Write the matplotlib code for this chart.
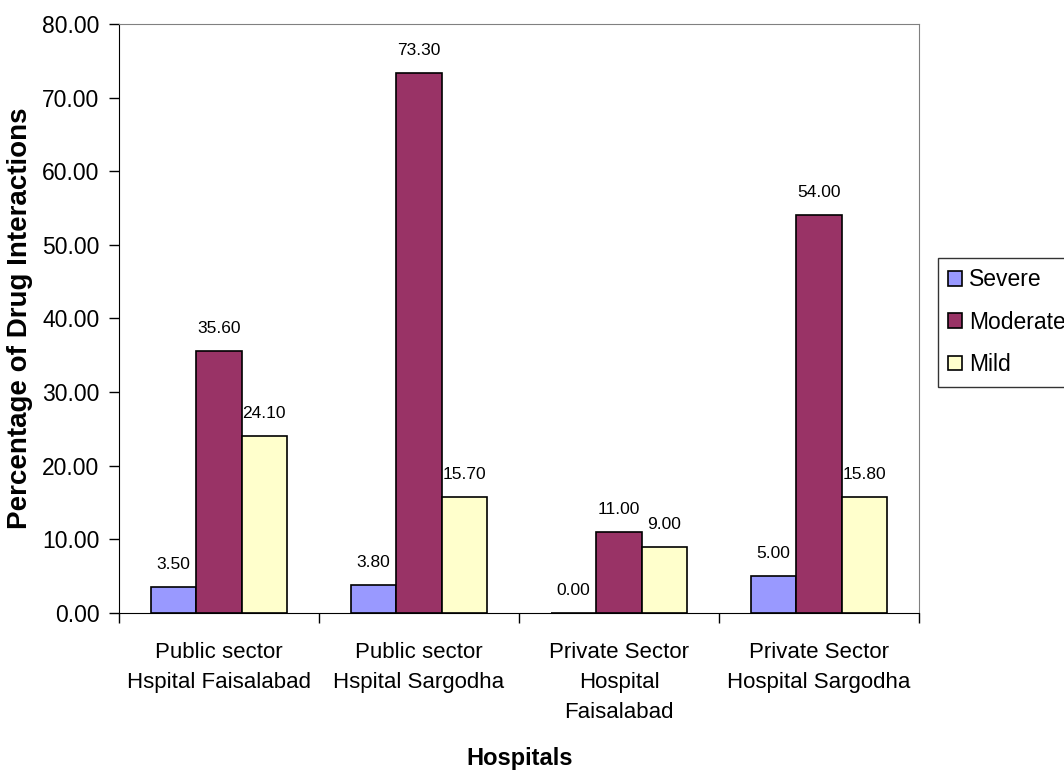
import numpy as np
import matplotlib as mpl
mpl.use('Agg')
import matplotlib.pyplot as plt

mpl.rcParams['font.family'] = ['Liberation Sans', 'DejaVu Sans']

categories = ['Public sector\nHspital Faisalabad', 'Public sector\nHspital Sargodha',
              'Private Sector\nHospital\nFaisalabad', 'Private Sector\nHospital Sargodha']
severe = [3.50, 3.80, 0.00, 5.00]
moderate = [35.60, 73.30, 11.00, 54.00]
mild = [24.10, 15.70, 9.00, 15.80]
series = [('Severe', severe, '#9999FF'), ('Moderate', moderate, '#993366'), ('Mild', mild, '#FFFFCC')]

fig = plt.figure(figsize=(10.64, 7.72), dpi=100)
ax = fig.add_axes([0.1118, 0.2060, 0.7519, 0.7629])

x = np.arange(len(categories))
w = 0.227
for i, (name, vals, col) in enumerate(series):
    pos = x + (i - 1) * w
    ax.bar(pos, vals, w, color=col, edgecolor='black', linewidth=1.2, label=name)
    for px, v in zip(pos, vals):
        ax.annotate('%.2f' % v, (px, v), xytext=(0, 15), textcoords='offset pixels',
                    ha='center', va='bottom', fontsize=12.5)

ax.set_xlim(-0.5, len(categories) - 0.5)
ax.set_ylim(0, 80)
ax.set_yticks(np.arange(0, 81, 10))
ax.set_yticklabels(['%.2f' % t for t in np.arange(0, 81, 10)])
ax.set_xticks(x)
ax.set_xticklabels(categories, fontsize=16, linespacing=1.57)
ax.tick_params(axis='x', length=0, pad=21)
ax.set_xticks(np.arange(-0.5, len(categories)), minor=True)
ax.tick_params(axis='x', which='minor', length=7, direction='out', width=1)
ax.tick_params(axis='y', labelsize=16.5, length=7, direction='out', width=1, pad=7)

for s in ['top', 'right']:
    ax.spines[s].set_color('#808080')
for s in ['left', 'bottom']:
    ax.spines[s].set_color('black')

ax.set_ylabel('Percentage of Drug Interactions', fontsize=20, fontweight='bold')
ax.yaxis.set_label_coords(-0.108, 0.5)
fig.text(0.488, 0.018, 'Hospitals', fontsize=17, fontweight='bold', ha='center', va='center')

leg = ax.legend(loc='upper left', bbox_to_anchor=(0.8816, 0.6658), bbox_transform=fig.transFigure,
                fontsize=16.5, frameon=True, fancybox=False, edgecolor='black',
                handlelength=0.6, handleheight=0.6, handletextpad=0.3, labelspacing=0.85,
                borderpad=0.45, borderaxespad=0)
leg.get_frame().set_linewidth(1)

fig.savefig('out.png', dpi=100)
